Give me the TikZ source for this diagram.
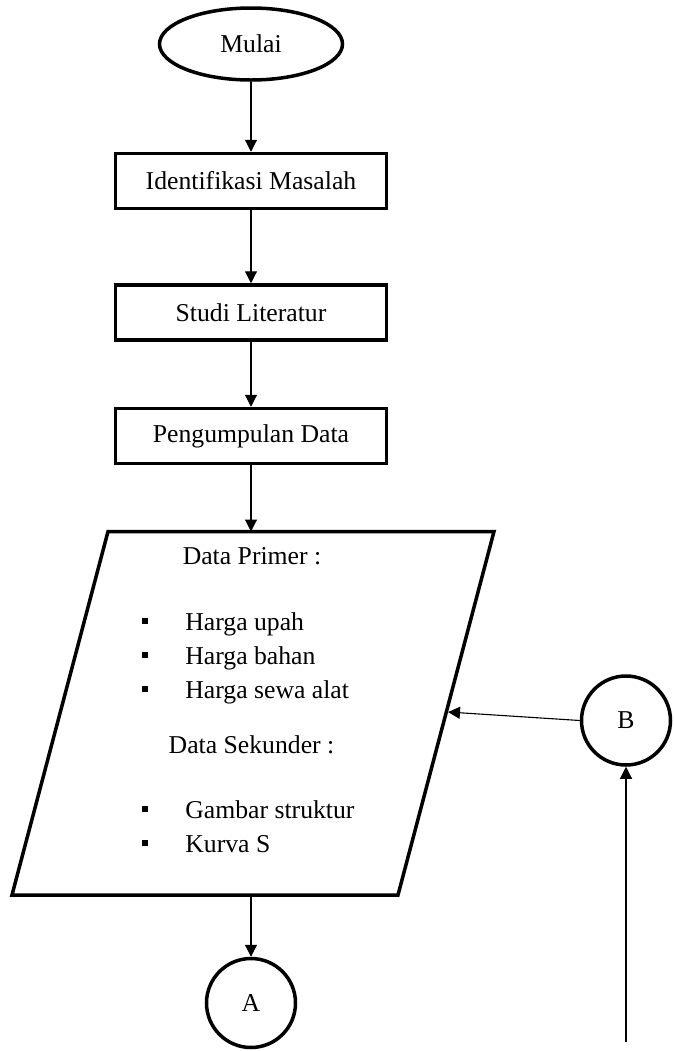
\documentclass[tikz,border=0pt]{standalone}
\usepackage{fontspec}
\setmainfont{Liberation Serif}
\usetikzlibrary{shapes.geometric,arrows.meta}

\newcommand{\titik}{\rule[3pt]{3pt}{3pt}\hspace{18.5pt}}

\begin{document}
\begin{tikzpicture}[x=0.5pt,y=-0.5pt,
  font=\fontsize{12.85}{15}\selectfont,
  kotak/.style={draw, line width=1.75pt, minimum width=135.5pt, minimum height=27.5pt, inner sep=0pt},
  bulat/.style={draw, circle, line width=1.75pt, minimum size=44.5pt, inner sep=0pt},
  panah/.style={-{Triangle[width=6pt,length=6pt]}, line width=0.55pt},
  isi/.style={anchor=base west, inner sep=0pt}]
\useasboundingbox (0,0) rectangle (674,1051);

\node[draw, ellipse, line width=1.75pt, minimum width=91.5pt, minimum height=36pt, inner sep=0pt] (mulai) at (251,44) {Mulai};
\node[kotak] (identifikasi) at (251,181) {Identifikasi Masalah};
\node[kotak] (studi) at (251,312.5) {Studi Literatur};
\node[kotak] (pengumpulan) at (251,436) {Pengumpulan Data};

% data input
\draw[line width=1.75pt] (108,531.5) coordinate (tl) -- (494,531.5) coordinate (tr)
  -- (398,895) coordinate (br) -- (12,895) coordinate (bl) -- cycle;
\coordinate (atas) at (251,531.5);
\coordinate (bawah) at (251,895);
\coordinate (masuk) at (448,712);

\node[anchor=base, inner sep=0pt] (primer) at (252,564) {Data Primer :};
\node[isi] (upah) at (142,630) {\titik Harga upah};
\node[isi] (bahan) at (142,664) {\titik Harga bahan};
\node[isi] (sewa) at (142,698) {\titik Harga sewa alat};
\node[anchor=base, inner sep=0pt] (sekunder) at (251.5,753) {Data Sekunder :};
\node[isi] (gambar) at (142,818) {\titik Gambar struktur};
\node[isi] (kurva) at (142,852) {\titik Kurva S};

% penghubung
\node[bulat] (A) at (251,1003) {A};
\node[bulat] (B) at (626,720.5) {B};
\coordinate (ujung) at (626,1042);

\draw[panah] (mulai.south) -- (identifikasi.north);
\draw[panah] (identifikasi.south) -- (studi.north);
\draw[panah] (studi.south) -- (pengumpulan.north);
\draw[panah] (pengumpulan.south) -- (atas);
\draw[panah] (bawah) -- (A.north);
\draw[panah] (B.west) -- (masuk);
\draw[panah] (ujung) -- (B.south);
\end{tikzpicture}
\end{document}
